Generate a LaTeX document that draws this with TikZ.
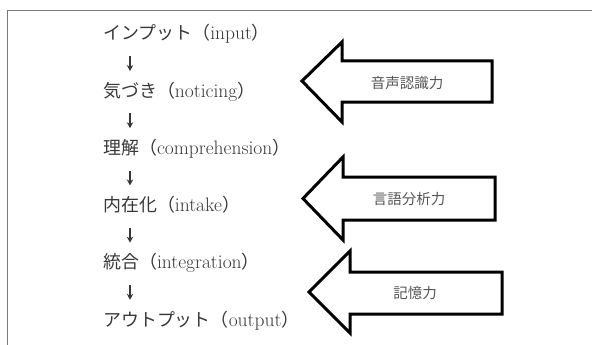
\documentclass[tikz,border=0pt]{standalone}
\usepackage{fontspec}
\newfontfamily\cjk[Scale=0.92]{Noto Sans CJK JP}
\newfontfamily\cjklab{Noto Sans CJK JP}
\usetikzlibrary{arrows.meta,calc}
\definecolor{txt}{HTML}{383838}
\definecolor{lab}{HTML}{555555}
\definecolor{frm}{HTML}{7A7A7A}
\tikzset{
  stage/.style={anchor=west, inner sep=0pt, text height=14pt, text depth=4pt,
    text=txt, font=\fontsize{19.5}{22}\selectfont},
  dn/.style={draw=txt, line width=1.2pt, shorten <=12pt, shorten >=12pt,
    -{Stealth[length=6pt,width=6.5pt]}},
  bigarrow/.style={draw=black, line width=3pt, line join=miter, fill=white},
  arrlabel/.style={inner sep=0pt, text=lab, font=\cjklab\fontsize{14.5}{16}\selectfont},
  frame/.style={draw=frm, line width=1.2pt}
}
\begin{document}
\begin{tikzpicture}[x=1pt,y=-1pt]
\useasboundingbox (0,0) rectangle (592,345);
\draw[frame] (7.5,345) -- (7.5,10.5) -- (592,10.5);

\node[stage] (s1) at (103,35) {{\cjk インプット（}input{\cjk ）}};
\node[stage] (s2) at (103,92.2) {{\cjk 気づき（}noticing{\cjk ）}};
\node[stage] (s3) at (103,149.4) {{\cjk 理解（}comprehension{\cjk ）}};
\node[stage] (s4) at (103,206.6) {{\cjk 内在化（}intake{\cjk ）}};
\node[stage] (s5) at (103,263.8) {{\cjk 統合（}integration{\cjk ）}};
\node[stage] (s6) at (103,321) {{\cjk アウトプット（}output{\cjk ）}};

\foreach \a/\b in {s1/s2,s2/s3,s3/s4,s4/s5,s5/s6}
  \draw[dn] ([xshift=27pt]\a.south west) -- ([xshift=27pt]\b.north west);

\draw[bigarrow] (302,81) -- (342,42) -- (342,61) -- (492,61) -- (492,102) -- (342,102) -- (342,122) -- cycle;
\node[arrlabel] (a1) at (407,83) {音声認識力};

\draw[bigarrow] (303,198.5) -- (343,157) -- (343,177) -- (495,177) -- (495,220) -- (343,220) -- (343,240) -- cycle;
\node[arrlabel] (a2) at (409,199) {言語分析力};

\draw[bigarrow] (309,292) -- (350,251) -- (350,272) -- (502,272) -- (502,314) -- (350,314) -- (350,333) -- cycle;
\node[arrlabel] (a3) at (415,293) {記憶力};
\end{tikzpicture}
\end{document}
